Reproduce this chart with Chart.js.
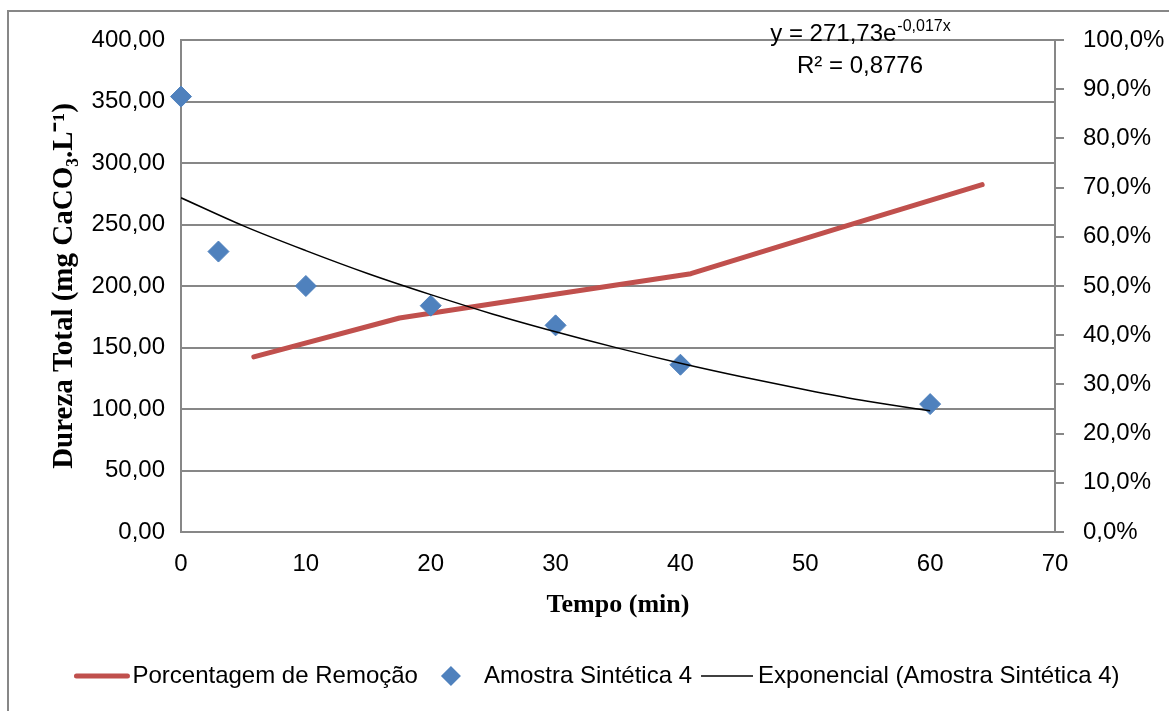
<!DOCTYPE html>
<html>
<head>
<meta charset="utf-8">
<script src="https://cdn.jsdelivr.net/npm/chart.js@4.4.1/dist/chart.umd.min.js"></script>
<style>
  html, body { margin: 0; padding: 0; background: #fff; overflow: hidden; }
  #wrap { position: relative; width: 1169px; height: 711px; }
</style>
</head>
<body>
<div id="wrap"><canvas id="chart" width="1169" height="711"></canvas></div>
<script>
// Amostra Sintética 4 - dureza total (mg CaCO3/L) x tempo (min)
const sampleTimes = [0, 3, 10, 20, 30, 40, 60];
const sampleHardness = [354, 228, 200, 184, 168, 136, 104];

// Porcentagem de remoção (eixo secundário, por categoria)
const removalLabels = ["3", "10", "20", "30", "40", "60"];
const removalPercent = [35.6, 43.5, 48.0, 52.5, 61.6, 70.6];

// linha de tendência exponencial
const trendTimes = [0, 5, 10, 15, 20, 25, 30, 35, 40, 45, 50, 55, 60];
const trendHardness = [271.7, 248.9, 228.8, 210.0, 193.0, 177.1, 162.8, 149.5, 137.2, 126.0, 115.7, 106.3, 98.5];

// ticks
const xTickValues = [0, 10, 20, 30, 40, 50, 60, 70];
const yTickValues = [0, 50, 100, 150, 200, 250, 300, 350, 400];
const pctTickValues = [0, 10, 20, 30, 40, 50, 60, 70, 80, 90, 100];

const trendEquation = "y = 271,73e";
const trendExponent = "-0,017x";
const trendR2 = "R² = 0,8776";

const GREY = "#878787";
const SANS = "'Liberation Sans', Arial, sans-serif";
const SERIF = "'Liberation Serif', 'Times New Roman', serif";

const toTicks = arr => arr.map(v => ({ value: v }));

// moldura, equação e legenda
const extras = {
  id: "extras",
  beforeDraw(chart) {
    const ctx = chart.ctx;
    ctx.save();
    ctx.strokeStyle = GREY;
    ctx.lineWidth = 2;
    ctx.beginPath();
    ctx.moveTo(8, chart.height + 5);
    ctx.lineTo(8, 11);
    ctx.lineTo(chart.width + 5, 11);
    ctx.stroke();
    ctx.restore();
  },
  afterDraw(chart) {
    const ctx = chart.ctx;
    const area = chart.chartArea;
    ctx.save();
    ctx.fillStyle = "#000";
    ctx.textBaseline = "alphabetic";

    // equação da tendência
    const cx = area.right - 195;
    ctx.font = "24px " + SANS;
    const w1 = ctx.measureText(trendEquation).width;
    ctx.font = "16px " + SANS;
    const w2 = ctx.measureText(trendExponent).width;
    const x0 = cx - (w1 + w2) / 2;
    ctx.font = "24px " + SANS;
    ctx.textAlign = "left";
    ctx.fillText(trendEquation, x0, area.top + 1);
    ctx.font = "16px " + SANS;
    ctx.fillText(trendExponent, x0 + w1 + 1, area.top - 9);
    ctx.font = "24px " + SANS;
    ctx.textAlign = "center";
    ctx.fillText(trendR2, cx, area.top + 33);

    // legenda
    const ds = chart.data.datasets;
    const layout = [[55, 3, 23], [20, 23, 9], [52, 5, 0]];
    ctx.font = "24px " + SANS;
    const widths = ds.map(d => ctx.measureText(d.label).width);
    let total = 0;
    layout.forEach((l, i) => { total += l[0] + l[1] + widths[i] + l[2]; });
    let x = 597 - total / 2;
    const y = 676;
    ds.forEach((d, i) => {
      const [sw, gap, after] = layout[i];
      if (d.pointStyle === "rectRot") {
        const c = x + sw / 2, r = 10;
        ctx.fillStyle = d.backgroundColor;
        ctx.beginPath();
        ctx.moveTo(c, y - r); ctx.lineTo(c + r, y); ctx.lineTo(c, y + r); ctx.lineTo(c - r, y);
        ctx.closePath();
        ctx.fill();
      } else {
        ctx.strokeStyle = d.borderColor;
        ctx.lineWidth = d.borderWidth;
        ctx.lineCap = d.borderCapStyle || "butt";
        ctx.beginPath();
        ctx.moveTo(x + (ctx.lineCap === "round" ? 2 : 0), y);
        ctx.lineTo(x + sw - (ctx.lineCap === "round" ? 2 : 0), y);
        ctx.stroke();
      }
      x += sw + gap;
      ctx.fillStyle = "#000";
      ctx.textAlign = "left";
      ctx.textBaseline = "middle";
      ctx.fillText(d.label, x, y);
      x += widths[i] + after;
    });
    ctx.restore();
  }
};

new Chart(document.getElementById("chart"), {
  type: "scatter",
  data: {
    datasets: [
      {
        type: "line",
        label: "Porcentagem de Remoção",
        data: removalPercent,
        xAxisID: "x2",
        yAxisID: "y2",
        borderColor: "#c0504d",
        backgroundColor: "#c0504d",
        borderWidth: 5,
        borderCapStyle: "round",
        borderJoinStyle: "round",
        pointRadius: 0,
        tension: 0,
        order: 2
      },
      {
        label: "Amostra Sintética 4",
        data: sampleTimes.map((t, i) => ({ x: t, y: sampleHardness[i] })),
        xAxisID: "x",
        yAxisID: "y",
        pointStyle: "rectRot",
        pointRadius: 10.5,
        backgroundColor: "#4f81bd",
        borderColor: "#4f81bd",
        borderWidth: 1,
        clip: false,
        order: 1
      },
      {
        type: "line",
        label: "Exponencial (Amostra Sintética 4)",
        data: trendTimes.map((t, i) => ({ x: t, y: trendHardness[i] })),
        xAxisID: "x",
        yAxisID: "y",
        borderColor: "#000000",
        borderWidth: 1.5,
        pointRadius: 0,
        cubicInterpolationMode: "monotone",
        order: 0
      }
    ]
  },
  options: {
    responsive: false,
    animation: false,
    layout: { padding: { left: 0, right: 0, top: 40, bottom: 89 } },
    plugins: {
      legend: { display: false },
      tooltip: { enabled: false }
    },
    scales: {
      x: {
        type: "linear",
        position: "bottom",
        min: 0,
        max: 70,
        afterBuildTicks: s => { s.ticks = toTicks(xTickValues); },
        afterFit: s => { s.height = 90; },
        grid: { drawOnChartArea: false, drawTicks: false },
        border: { display: true, color: GREY, width: 2 },
        ticks: { color: "#000", font: { family: SANS, size: 24 }, padding: 18, maxRotation: 0 },
        title: {
          display: true,
          text: "Tempo (min)",
          color: "#000",
          font: { family: SERIF, size: 26, weight: "bold" },
          padding: { top: 0, bottom: 1 }
        }
      },
      x2: {
        type: "category",
        labels: removalLabels,
        offset: true,
        display: false
      },
      y: {
        type: "linear",
        position: "left",
        min: 0,
        max: 400,
        afterBuildTicks: s => { s.ticks = toTicks(yTickValues); },
        afterFit: s => { s.width = 181; },
        grid: { color: GREY, lineWidth: 2, drawTicks: false },
        border: { display: true, color: GREY, width: 2 },
        ticks: {
          color: "#000",
          font: { family: SANS, size: 24 },
          padding: 16,
          callback: v => v.toFixed(2).replace(".", ",")
        },
        title: {
          display: true,
          text: "Dureza Total (mg CaCO₃.L⁻¹)",
          color: "#000",
          font: { family: SERIF, size: 29, weight: "bold" },
          padding: { top: 47, bottom: 0 }
        }
      },
      y2: {
        type: "linear",
        position: "right",
        min: 0,
        max: 100,
        afterBuildTicks: s => { s.ticks = toTicks(pctTickValues); },
        afterFit: s => { s.width = 114; },
        grid: { drawOnChartArea: false, drawTicks: true, tickLength: 9, color: GREY, lineWidth: 2 },
        border: { display: true, color: GREY, width: 2 },
        ticks: {
          color: "#000",
          font: { family: SANS, size: 24 },
          padding: 19,
          callback: v => v.toFixed(1).replace(".", ",") + "%"
        }
      }
    }
  },
  plugins: [extras]
});
</script>
</body>
</html>
